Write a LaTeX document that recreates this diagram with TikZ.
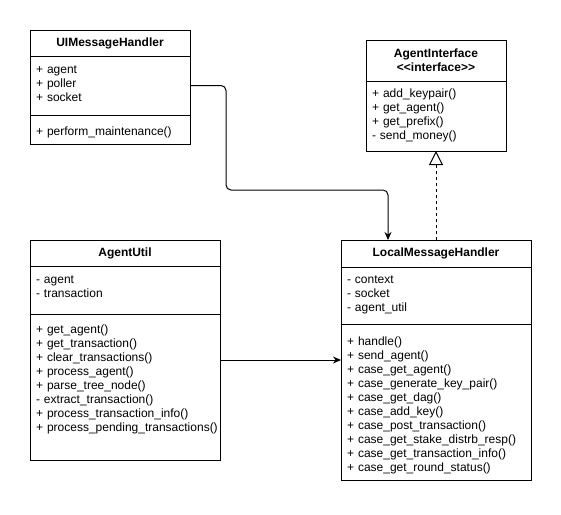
\documentclass[tikz,border=0pt]{standalone}
\usepackage{fontspec}
\setmainfont{Liberation Sans}
\usepackage{tikz}
\usetikzlibrary{positioning,arrows.meta}
\hyphenpenalty=10000

\begin{document}
\begin{tikzpicture}[x=1pt, y=-1pt, line width=1pt,
	font=\fontsize{12}{14}\selectfont,
	>={Stealth[length=8pt,width=7pt]},
	head/.style={draw, anchor=north west, outer sep=0pt, inner sep=0pt, align=center, font=\fontsize{12}{14}\selectfont\bfseries},
	part/.style={draw, outer sep=0pt, inner xsep=6pt, inner ysep=0pt, align=left},
	realize/.style={dash pattern=on 3pt off 3pt, -{Triangle[open,length=14pt,width=14pt]}}]
			\useasboundingbox (0,0) rectangle (561,514);
			
			% UIMessageHandler
			\node[head, minimum width=160pt, minimum height=26pt] (uiHead) at (30,30) {UIMessageHandler};
			\node[part, below=0pt of uiHead, text width=148pt, text height=17pt, text depth=42pt] (uiAttr) {+ agent\\+ poller\\+ socket};
			\node[part, below=0pt of uiAttr, text width=148pt, text height=20pt, text depth=9pt] (uiMeth) {+ perform\_maintenance()};
			
			% AgentInterface
			\node[head, minimum width=140pt, minimum height=41pt] (aiHead) at (366,40) {AgentInterface\\<\kern0pt<interface>\kern0pt>};
			\node[part, below=0pt of aiHead, text width=128pt, text height=16pt, text depth=54pt] (aiMeth) {+ add\_keypair()\\+ get\_agent()\\+ get\_prefix()\\- send\_money()};
			
			% AgentUtil
			\node[head, minimum width=190pt, minimum height=26pt] (auHead) at (30,240) {AgentUtil};
			\node[part, below=0pt of auHead, text width=178pt, text height=17.5pt, text depth=30.5pt] (auAttr) {- agent\\- transaction};
			\node[part, below=0pt of auAttr, text width=178pt, text height=19.5pt, text depth=126.5pt] (auMeth) {+ get\_agent()\\+ get\_transaction()\\+ clear\_transactions()\\+ process\_agent()\\+ parse\_tree\_node()\\- extract\_transaction()\\+ process\_transaction\_info()\\+~process\_pending\_transactions()};
			
			% LocalMessageHandler
			\node[head, minimum width=190pt, minimum height=27pt] (lmhHead) at (341,240) {LocalMessageHandler};
			\node[part, below=0pt of lmhHead, text width=178pt, text height=16pt, text depth=41pt] (lmhAttr) {- context\\- socket\\- agent\_util};
			\node[part, below=0pt of lmhAttr, text width=178pt, text height=21pt, text depth=135pt] (lmhMeth) {+ handle()\\+ send\_agent()\\+ case\_get\_agent()\\+ case\_generate\_key\_pair()\\+ case\_get\_dag()\\+ case\_add\_key()\\+ case\_post\_transaction()\\+ case\_get\_stake\_distrb\_resp()\\+ case\_get\_transaction\_info()\\+ case\_get\_round\_status()};
			
			\coordinate (uiBend) at (226,190);
			\path ([yshift=27pt]auMeth.east) coordinate (auOut);
			
			\draw[->, rounded corners=5pt] (uiAttr.east) -| (uiBend) -| ([xshift=-48pt]lmhHead.north);
			\draw[->] (auOut) -- (auOut -| lmhMeth.west);
			\draw[realize] (lmhHead.north) -- (aiMeth.south);
\end{tikzpicture}
\end{document}
